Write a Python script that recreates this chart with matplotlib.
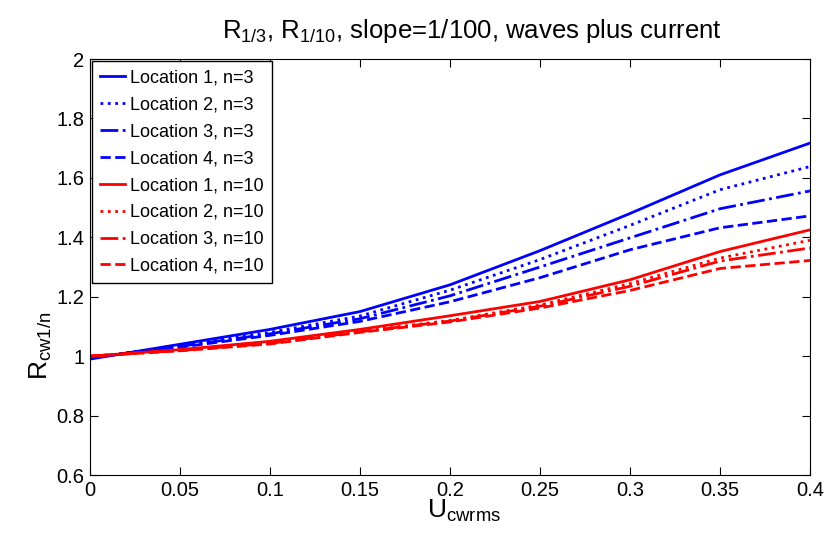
import matplotlib
matplotlib.use("Agg")
import matplotlib.pyplot as plt

plt.rcParams['font.family'] = ['Liberation Sans', 'DejaVu Sans']
plt.rcParams['mathtext.fontset'] = 'custom'
plt.rcParams['mathtext.rm'] = 'Liberation Sans'

u = [0, 0.05, 0.1, 0.15, 0.2, 0.25, 0.3, 0.35, 0.4]

# n=3, blue
loc1_n3 = [0.99, 1.04, 1.09, 1.15, 1.24, 1.355, 1.48, 1.61, 1.717]
loc2_n3 = [0.995, 1.035, 1.08, 1.135, 1.222, 1.325, 1.44, 1.56, 1.638]
loc3_n3 = [0.995, 1.033, 1.075, 1.126, 1.203, 1.30, 1.398, 1.496, 1.556]
loc4_n3 = [0.995, 1.03, 1.07, 1.117, 1.183, 1.264, 1.358, 1.432, 1.472]

# n=10, red
loc1_n10 = [1.0, 1.022, 1.05, 1.09, 1.136, 1.184, 1.257, 1.352, 1.425]
loc2_n10 = [1.0, 1.02, 1.045, 1.084, 1.12, 1.172, 1.244, 1.33, 1.39]
loc3_n10 = [1.0, 1.019, 1.043, 1.082, 1.118, 1.168, 1.235, 1.32, 1.364]
loc4_n10 = [1.0, 1.018, 1.041, 1.08, 1.115, 1.162, 1.221, 1.295, 1.322]

series = [
    (loc1_n3, 'b', '-', 'Location 1, n=3'),
    (loc2_n3, 'b', ':', 'Location 2, n=3'),
    (loc3_n3, 'b', '-.', 'Location 3, n=3'),
    (loc4_n3, 'b', '--', 'Location 4, n=3'),
    (loc1_n10, 'r', '-', 'Location 1, n=10'),
    (loc2_n10, 'r', ':', 'Location 2, n=10'),
    (loc3_n10, 'r', '-.', 'Location 3, n=10'),
    (loc4_n10, 'r', '--', 'Location 4, n=10'),
]

xticks = [0, 0.05, 0.1, 0.15, 0.2, 0.25, 0.3, 0.35, 0.4]
xtick_labels = ['0', '0.05', '0.1', '0.15', '0.2', '0.25', '0.3', '0.35', '0.4']
yticks = [0.6, 0.8, 1, 1.2, 1.4, 1.6, 1.8, 2]
ytick_labels = ['0.6', '0.8', '1', '1.2', '1.4', '1.6', '1.8', '2']

fig = plt.figure(figsize=(8.27, 5.33), dpi=100)
ax = fig.add_axes([0.1088, 0.1088, 0.8706, 0.7805])

for vals, c, ls, lab in series:
    ax.plot(u, vals, color=c, linestyle=ls, linewidth=2, label=lab)

ax.set_xlim(0, 0.4)
ax.set_ylim(0.6, 2)
ax.set_xticks(xticks)
ax.set_xticklabels(xtick_labels)
ax.set_yticks(yticks)
ax.set_yticklabels(ytick_labels)
ax.tick_params(direction='in', top=True, right=True, labelsize=14.5, length=5.5, pad=4)

ax.set_xlabel(r'U$_{\mathregular{cwrms}}$', fontsize=19)
ax.xaxis.set_label_coords(0.52, -0.055)
ax.set_ylabel(r'R$_{\mathregular{cw1/n}}$', fontsize=19)
ax.yaxis.set_label_coords(-0.05, 0.31)
ax.set_title(r'R$_{\mathregular{1/3}}$, R$_{\mathregular{1/10}}$, slope=1/100, waves plus current',
             fontsize=18.5, pad=15, x=0.53)

leg = ax.legend(loc='upper left', fontsize=13, handlelength=1.35, handletextpad=0.3,
                borderaxespad=0.1, labelspacing=0.55, fancybox=False, framealpha=1,
                borderpad=0.47)
leg.get_frame().set_edgecolor('black')
leg.get_frame().set_linewidth(1.0)

fig.savefig('out.png', dpi=100)
